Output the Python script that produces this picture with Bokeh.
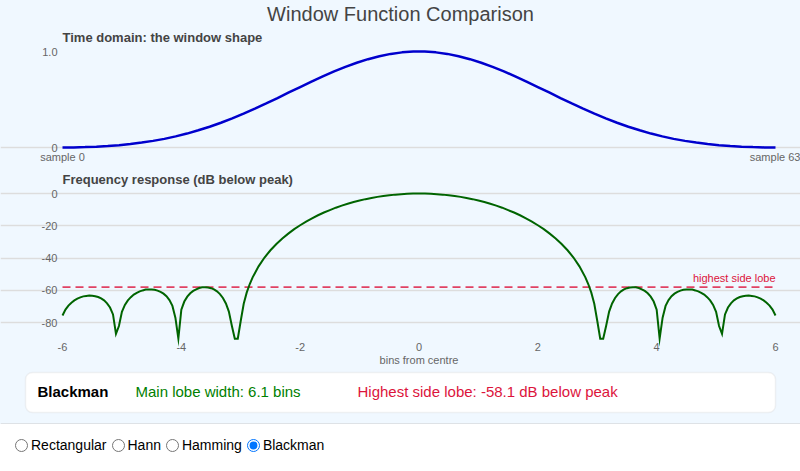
from bokeh.plotting import figure
from bokeh.models import Range1d, FixedTicker, Span, Title, BoxAnnotation, RadioGroup, Label
from bokeh.layouts import column
from bokeh.embed import file_html
from bokeh.resources import INLINE
from bokeh.core.properties import value

FONT = "Liberation Sans"
BG = "#f0f8ff"
TICK_COLOR = "#666666"

# ---------------- data ----------------
window_name = "Blackman"
window_options = ["Rectangular", "Hann", "Hamming", "Blackman"]
main_lobe_width = 6.1
side_lobe_db = -58.1

sample_index = list(range(64))
window_values = [
    0.000, 0.001, 0.004, 0.008, 0.015, 0.024, 0.036, 0.051,
    0.069, 0.090, 0.116, 0.145, 0.179, 0.216, 0.258, 0.304,
    0.353, 0.405, 0.459, 0.515, 0.573, 0.630, 0.686, 0.741,
    0.793, 0.840, 0.883, 0.920, 0.951, 0.975, 0.991, 0.999,
    0.999, 0.991, 0.975, 0.951, 0.920, 0.883, 0.840, 0.793,
    0.741, 0.686, 0.630, 0.573, 0.515, 0.459, 0.405, 0.353,
    0.304, 0.258, 0.216, 0.179, 0.145, 0.116, 0.090, 0.069,
    0.051, 0.036, 0.024, 0.015, 0.008, 0.004, 0.001, 0.000,
]
sample_ticks = [0, 63]
sample_labels = ["sample 0", "sample 63"]
window_ticks = [0, 1]
window_tick_labels = ["0", "1.0"]

freq_bins = [
    -6.0, -5.95, -5.9, -5.85, -5.8, -5.75, -5.7, -5.65, -5.6, -5.55,
    -5.5, -5.45, -5.4, -5.35, -5.3, -5.25, -5.2, -5.15, -5.1, -5.05,
    -5.0, -4.95, -4.9, -4.85, -4.8, -4.75, -4.7, -4.65, -4.6, -4.55,
    -4.5, -4.45, -4.4, -4.35, -4.3, -4.25, -4.2, -4.15, -4.1, -4.05,
    -4.0, -3.95, -3.9, -3.85, -3.8, -3.75, -3.7, -3.65, -3.6, -3.55,
    -3.5, -3.45, -3.4, -3.35, -3.3, -3.25, -3.2, -3.15, -3.1, -3.05,
    -3.0, -2.95, -2.9, -2.85,
    -2.8, -2.7, -2.6, -2.5, -2.4, -2.3, -2.2, -2.1, -2.0, -1.9,
    -1.8, -1.7, -1.6, -1.5, -1.4, -1.3, -1.2, -1.1, -1.0, -0.9,
    -0.8, -0.7, -0.6, -0.5, -0.4, -0.3, -0.2, -0.1, 0.0, 0.1,
    0.2, 0.3, 0.4, 0.5, 0.6, 0.7, 0.8, 0.9, 1.0, 1.1,
    1.2, 1.3, 1.4, 1.5, 1.6, 1.7, 1.8, 1.9, 2.0, 2.1,
    2.2, 2.3, 2.4, 2.5, 2.6, 2.7, 2.8,
    2.85, 2.9, 2.95, 3.0, 3.05, 3.1, 3.15, 3.2, 3.25, 3.3,
    3.35, 3.4, 3.45, 3.5, 3.55, 3.6, 3.65, 3.7, 3.75, 3.8,
    3.85, 3.9, 3.95, 4.0, 4.05, 4.1, 4.15, 4.2, 4.25, 4.3,
    4.35, 4.4, 4.45, 4.5, 4.55, 4.6, 4.65, 4.7, 4.75, 4.8,
    4.85, 4.9, 4.95, 5.0, 5.05, 5.1, 5.15, 5.2, 5.25, 5.3,
    5.35, 5.4, 5.45, 5.5, 5.55, 5.6, 5.65, 5.7, 5.75, 5.8,
    5.85, 5.9, 5.95, 6.0,
]
freq_db = [
    -75.7, -72.0, -69.5, -67.7, -66.3, -65.2, -64.4, -63.8, -63.5, -63.3,
    -63.4, -63.7, -64.2, -65.1, -66.3, -68.1, -70.7, -75.0, -87.0, -82.2,
    -73.4, -69.1, -66.3, -64.3, -62.7, -61.6, -60.7, -60.1, -59.6, -59.5,
    -59.5, -59.7, -60.2, -61.0, -62.1, -63.7, -66.1, -69.7, -77.0, -90.0,
    -72.1, -67.0, -64.0, -61.9, -60.4, -59.4, -58.6, -58.2, -58.1, -58.3,
    -58.7, -59.5, -60.7, -62.4, -64.8, -68.2, -73.2, -82.0, -90.0, -90.0,
    -78.9, -68.4, -61.5, -56.3,
    -52.0, -45.2, -39.7, -35.2, -31.3, -27.9, -24.9, -22.1, -19.7, -17.4,
    -15.4, -13.5, -11.8, -10.3, -8.8, -7.5, -6.4, -5.3, -4.4, -3.5,
    -2.8, -2.1, -1.5, -1.1, -0.7, -0.4, -0.2, -0.04, 0.0, -0.04,
    -0.2, -0.4, -0.7, -1.1, -1.5, -2.1, -2.8, -3.5, -4.4, -5.3,
    -6.4, -7.5, -8.8, -10.3, -11.8, -13.5, -15.4, -17.4, -19.7, -22.1,
    -24.9, -27.9, -31.3, -35.2, -39.7, -45.2, -52.0,
    -56.3, -61.5, -68.4, -78.9, -90.0, -90.0, -82.0, -73.2, -68.2, -64.8,
    -62.4, -60.7, -59.5, -58.7, -58.3, -58.1, -58.2, -58.6, -59.4, -60.4,
    -61.9, -64.0, -67.0, -72.1, -90.0, -77.0, -69.7, -66.1, -63.7, -62.1,
    -61.0, -60.2, -59.7, -59.5, -59.5, -59.6, -60.1, -60.7, -61.6, -62.7,
    -64.3, -66.3, -69.1, -73.4, -82.2, -87.0, -75.0, -70.7, -68.1, -66.3,
    -65.1, -64.2, -63.7, -63.4, -63.3, -63.5, -63.8, -64.4, -65.2, -66.3,
    -67.7, -69.5, -72.0, -75.7,
]
db_ticks = [0, -20, -40, -60, -80]
bin_ticks = [-6, -4, -2, 0, 2, 4, 6]
db_floor = -90

# ---------------- layout constants (pixels) ----------------
W = 800
PLOT_L, PLOT_R = 62, 775          # where the data area starts / ends horizontally
T_H, T_TOP = 165, 46              # time figure height, its frame top
T_Y1, T_Y0 = 51, 147              # pixel rows of window value 1 and 0
F_H, F_TOP = 201, 22              # freq figure height, its frame top (inside figure)
F_Y0, F_Y80 = 193 - T_H, 322 - T_H  # rows (inside the freq figure) of 0 dB and -80 dB
I_H = 58
LABEL_GAP = 9                     # px between dashed line and its label anchor


def span_range(v0, v1, p0, p1, lo, hi):
    """data range whose ends fall at pixels lo..hi when v0->p0 and v1->p1"""
    k = (v1 - v0) / (p1 - p0)
    return Range1d(v0 + (lo - p0) * k, v0 + (hi - p0) * k)


def style_common(p):
    p.background_fill_color = BG
    p.border_fill_color = BG
    p.outline_line_color = None
    p.xgrid.visible = False
    for ax in p.axis:
        ax.axis_line_color = None
        ax.major_tick_line_color = None
        ax.minor_tick_line_color = None
        ax.major_tick_out = 0
        ax.minor_tick_out = 0
        ax.major_label_text_font = FONT
        ax.major_label_text_font_size = "11px"
        ax.major_label_text_color = TICK_COLOR


# ---------------- time domain ----------------
pt = figure(width=W, height=T_H,
            x_range=span_range(sample_ticks[0], sample_ticks[-1], PLOT_L, PLOT_R, 0, W),
            y_range=span_range(0, 1, T_H - T_Y0, T_H - T_Y1, 0, T_H - T_TOP),
            output_backend="svg", toolbar_location=None,
            min_border_left=0, min_border_right=0, min_border_top=T_TOP, min_border_bottom=0)
style_common(pt)
pt.add_layout(Title(text="Time domain: the window shape", align="left", offset=PLOT_L,
                    text_font=FONT, text_font_size="13px", text_font_style="bold",
                    standoff=3), "above")
pt.add_layout(Title(text="Window Function Comparison", align="center", text_font=FONT,
                    text_font_size="20px", text_font_style="normal", standoff=0,
                    vertical_align="top"), "above")
pt.xaxis.ticker = FixedTicker(ticks=sample_ticks)
pt.xaxis.major_label_overrides = dict(zip(sample_ticks, sample_labels))
pt.xaxis.fixed_location = 0
pt.xaxis.major_label_standoff = 3
pt.yaxis.ticker = FixedTicker(ticks=window_ticks)
pt.yaxis.major_label_overrides = dict(zip(window_ticks, window_tick_labels))
pt.yaxis.fixed_location = sample_ticks[0]
pt.yaxis.major_label_standoff = 5
pt.ygrid.ticker = FixedTicker(ticks=[0])
pt.ygrid.bounds = (sample_ticks[0], sample_ticks[-1])
pt.ygrid.grid_line_color = "#dddddd"
pt.ygrid.grid_line_width = 1.5
pt.line(sample_index, window_values, line_color="#0000cd", line_width=2.5)

# ---------------- frequency response ----------------
f_range = span_range(0, -80, F_H - F_Y0, F_H - F_Y80, 0, F_H - F_TOP)
db_per_px = 80 / (F_Y80 - F_Y0)
pf = figure(width=W, height=F_H,
            x_range=span_range(bin_ticks[0], bin_ticks[-1], PLOT_L, PLOT_R, 0, W),
            y_range=f_range,
            output_backend="svg", toolbar_location=None,
            min_border_left=0, min_border_right=0, min_border_top=F_TOP, min_border_bottom=0)
style_common(pf)
pf.add_layout(Title(text="Frequency response (dB below peak)", align="left", offset=PLOT_L,
                    text_font=FONT, text_font_size="13px", text_font_style="bold",
                    standoff=1), "above")
pf.xaxis.ticker = FixedTicker(ticks=bin_ticks)
pf.xaxis.major_label_overrides = {t: str(t) for t in bin_ticks}
pf.xaxis.fixed_location = db_floor
pf.xaxis.major_label_standoff = 4
pf.yaxis.ticker = FixedTicker(ticks=db_ticks)
pf.yaxis.major_label_overrides = {t: str(t) for t in db_ticks}
pf.yaxis.fixed_location = bin_ticks[0]
pf.yaxis.major_label_standoff = 5
pf.ygrid.ticker = FixedTicker(ticks=db_ticks)
pf.ygrid.bounds = (bin_ticks[0], bin_ticks[-1])
pf.ygrid.grid_line_color = "#dddddd"
pf.ygrid.grid_line_width = 1.5
pf.add_layout(Label(x=(bin_ticks[0] + bin_ticks[-1]) / 2, y=db_floor - 21 * db_per_px,
                    text="bins from centre", text_align="center", text_baseline="middle",
                    text_font=FONT, text_font_size="11px", text_color=TICK_COLOR))
pf.line([bin_ticks[0], bin_ticks[-1]], [side_lobe_db, side_lobe_db], line_color="#dc143c",
        line_alpha=0.8, line_dash="8 5", line_width=1.8)
pf.add_layout(Label(x=bin_ticks[-1], y=side_lobe_db + LABEL_GAP * db_per_px,
                    text="highest side lobe", text_align="right",
                    text_baseline="alphabetic", text_font=FONT,
                    text_font_size="11px", text_color="#dc143c"))
pf.line(freq_bins, freq_db, line_color="#006400", line_width=2, line_join="miter")

# ---------------- info box ----------------
pi = figure(width=W, height=I_H, x_range=Range1d(0, W), y_range=Range1d(I_H, 0),
            output_backend="svg", toolbar_location=None,
            x_axis_location=None, y_axis_location=None, min_border=0)
pi.background_fill_color = BG
pi.border_fill_color = BG
pi.outline_line_color = None
pi.grid.visible = False
pi.add_layout(BoxAnnotation(left=25, right=775, top=6, bottom=46, fill_color="white",
                            fill_alpha=1, line_color="#d4d4d4", line_width=1.5,
                            border_radius=7, level="underlay"))
pi.add_layout(Span(location=I_H - 0.5, dimension="width", line_color="#cccccc", line_width=1))
pi.text(x=[37], y=[25], text=[window_name], text_baseline="middle",
        text_font=value(FONT), text_font_size="15px", text_font_style="bold", text_color="black")
pi.text(x=[135], y=[25], text=[f"Main lobe width: {main_lobe_width} bins"], text_baseline="middle",
        text_font=value(FONT), text_font_size="15px", text_color="green")
pi.text(x=[357], y=[25], text=[f"Highest side lobe: {side_lobe_db} dB below peak"],
        text_baseline="middle", text_font=value(FONT), text_font_size="15px", text_color="#dc143c")

radio = RadioGroup(labels=window_options, active=window_options.index(window_name), inline=True,
                   margin=(13, 5, 5, 15),
                   styles={"font-size": "14px", "font-family": FONT})

panel = column(pt, pf, pi, spacing=0, styles={"background-color": BG})
layout = column(panel, radio, spacing=0)

open("out.html", "w").write(file_html(layout, INLINE))
